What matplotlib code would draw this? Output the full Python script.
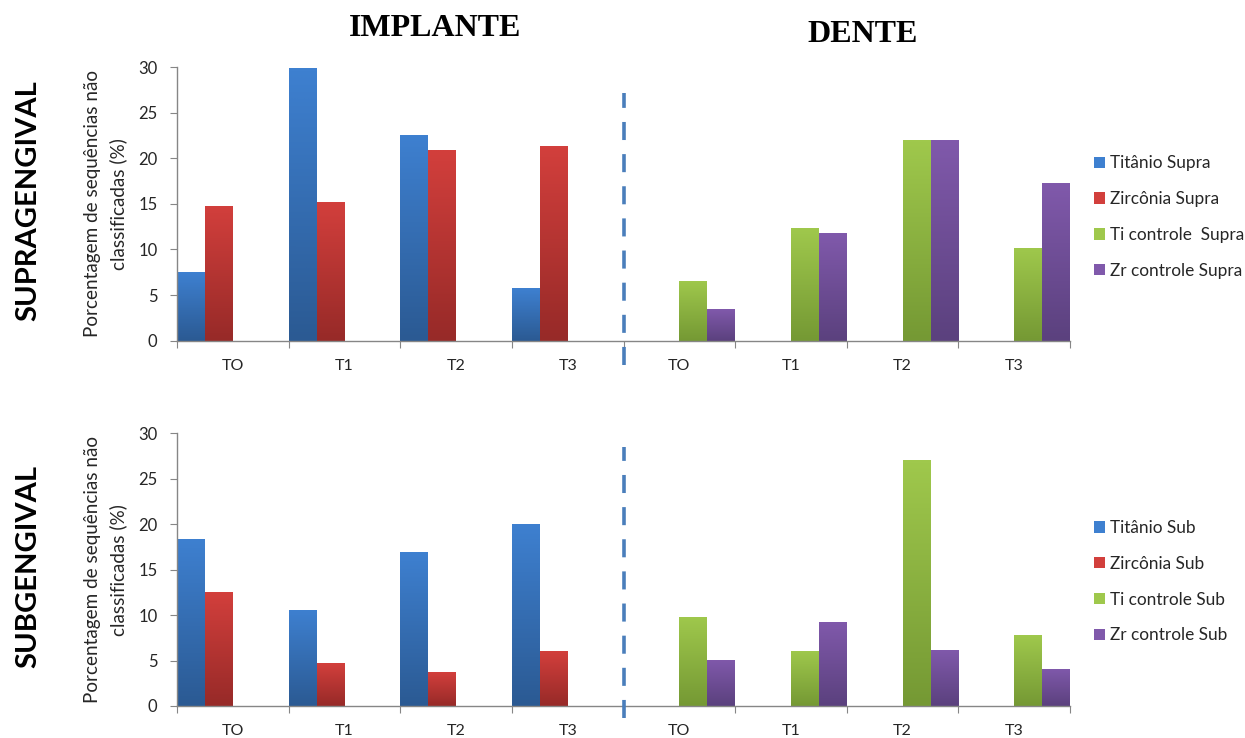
import numpy as np
import matplotlib
matplotlib.use("Agg")
import matplotlib.pyplot as plt
from matplotlib.colors import LinearSegmentedColormap
from matplotlib.patches import Patch
from matplotlib.lines import Line2D

# ---------------------------------------------------------------- data
time_points = ["TO", "T1", "T2", "T3"]
site_groups = ["IMPLANTE", "DENTE"]
row_names = ["SUPRAGENGIVAL", "SUBGENGIVAL"]

supra_labels = ["Titânio Supra", "Zircônia Supra", "Ti controle  Supra", "Zr controle Supra"]
sub_labels = ["Titânio Sub", "Zircônia Sub", "Ti controle Sub", "Zr controle Sub"]

# implant series (left half), control series (right half)
supra_titanio = [7.5, 29.85, 22.6, 5.8]
supra_zirconia = [14.8, 15.2, 20.85, 21.3]
supra_ti_ctrl = [6.6, 12.35, 22.0, 10.2]
supra_zr_ctrl = [3.5, 11.8, 22.05, 17.3]

sub_titanio = [18.4, 10.6, 16.9, 20.05]
sub_zirconia = [12.5, 4.7, 3.7, 6.0]
sub_ti_ctrl = [9.8, 6.1, 27.05, 7.8]
sub_zr_ctrl = [5.1, 9.25, 6.2, 4.1]

Y_LABEL = "Porcentagem de sequências não\nclassificadas (%)"

# (top, bottom) gradient colours per series
SERIES_COLORS = [
    ("#3e80d0", "#2b5a93"),
    ("#d23f3c", "#972a28"),
    ("#9fc84c", "#759934"),
    ("#8059ab", "#5b417e"),
]

FONT = "Lato"
TEXT_COLOR = "#262626"
AXIS_COLOR = "#868686"

plt.rcParams["font.family"] = [FONT, "DejaVu Sans"]


def gradient_bars(ax, bars, top, bottom):
    cmap = LinearSegmentedColormap.from_list("g", [bottom, top])
    grad = np.linspace(0, 1, 64).reshape(-1, 1)
    for bar in bars:
        x, y = bar.get_x(), bar.get_y()
        w, h = bar.get_width(), bar.get_height()
        if not np.isfinite(h) or h <= 0:
            continue
        im = ax.imshow(grad, cmap=cmap, origin="lower", aspect="auto",
                       extent=[x, x + w, y, y + h], zorder=2, interpolation="bilinear")
        im.set_clip_path(bar)
        bar.set_facecolor("none")
        bar.set_edgecolor("none")


def draw_row(ax, series):
    n_cat = 2 * len(time_points)
    x = np.arange(n_cat)
    width = 0.25
    nan4 = [np.nan] * len(time_points)
    # first two series live in the implant half, last two in the tooth half
    full = [list(series[0]) + nan4, list(series[1]) + nan4,
            nan4 + list(series[2]), nan4 + list(series[3])]
    for k, vals in enumerate(full):
        offset = (k - 1.5) * width
        bars = ax.bar(x + offset, vals, width, color=SERIES_COLORS[k][0], zorder=2)
        gradient_bars(ax, bars, *SERIES_COLORS[k])

    ax.set_xlim(-0.5, n_cat - 0.5)
    ax.set_ylim(0, 30)
    ax.set_yticks(range(0, 31, 5))
    ax.set_xticks(np.arange(-0.5, n_cat, 1.0))
    ax.set_xticklabels([])
    ax.set_xticks(x, minor=True)
    ax.set_xticklabels(time_points * 2, minor=True)
    ax.tick_params(axis="x", which="major", direction="out", length=5, color=AXIS_COLOR)
    ax.tick_params(axis="x", which="minor", length=0, pad=13, labelsize=11.5, labelcolor=TEXT_COLOR)
    ax.tick_params(axis="y", direction="out", length=5, color=AXIS_COLOR, pad=9,
                   labelsize=12, labelcolor=TEXT_COLOR)
    for side in ("top", "right"):
        ax.spines[side].set_visible(False)
    for side in ("left", "bottom"):
        ax.spines[side].set_color(AXIS_COLOR)
        ax.spines[side].set_linewidth(1.0)
    ax.set_ylabel(Y_LABEL, fontsize=13.6, color=TEXT_COLOR, labelpad=8, linespacing=1.55)


fig = plt.figure(figsize=(12.45, 7.38), dpi=100)
ax_top = fig.add_axes([0.1422, 0.5383, 0.7173, 0.3709])
ax_bot = fig.add_axes([0.1422, 0.0434, 0.7173, 0.3695])

rows = [
    (ax_top, [supra_titanio, supra_zirconia, supra_ti_ctrl, supra_zr_ctrl], supra_labels, (0.906, -0.089), 0.452),
    (ax_bot, [sub_titanio, sub_zirconia, sub_ti_ctrl, sub_zr_ctrl], sub_labels, (0.95, -0.044), 0.456),
]

for ax, series, labels, (y0, y1), leg_y in rows:
    draw_row(ax, series)
    # dashed divider between implant and tooth halves
    split = len(time_points) - 0.5
    ax.add_line(Line2D([split, split], [y1, y0], transform=ax.get_xaxis_transform(),
                       color="#4a7ebb", lw=2.6, dashes=(5.0, 3.9), clip_on=False, zorder=3))
    handles = [Patch(facecolor=c[0], edgecolor="none") for c in SERIES_COLORS]
    ax.legend(handles, labels, loc="center left", bbox_to_anchor=(1.027, leg_y),
              frameon=False, fontsize=12.4, handlelength=0.65, handleheight=0.65,
              handletextpad=0.25, labelspacing=1.15, labelcolor=TEXT_COLOR,
              borderaxespad=0.0, borderpad=0.0)

# column headers
fig.text(435 / 1245, 1 - 29 / 738, site_groups[0], ha="center", va="center",
         fontfamily="Liberation Serif", fontweight="bold", fontsize=23)
fig.text(863 / 1245, 1 - 35 / 738, site_groups[1], ha="center", va="center",
         fontfamily="Liberation Serif", fontweight="bold", fontsize=23)

# row headers
fig.text(28 / 1245, 1 - 201 / 738, row_names[0], rotation=90, ha="center", va="center",
         fontweight="bold", fontsize=21, color="black")
fig.text(28 / 1245, 1 - 567 / 738, row_names[1], rotation=90, ha="center", va="center",
         fontweight="bold", fontsize=21, color="black")

fig.savefig("out.png", dpi=100)
